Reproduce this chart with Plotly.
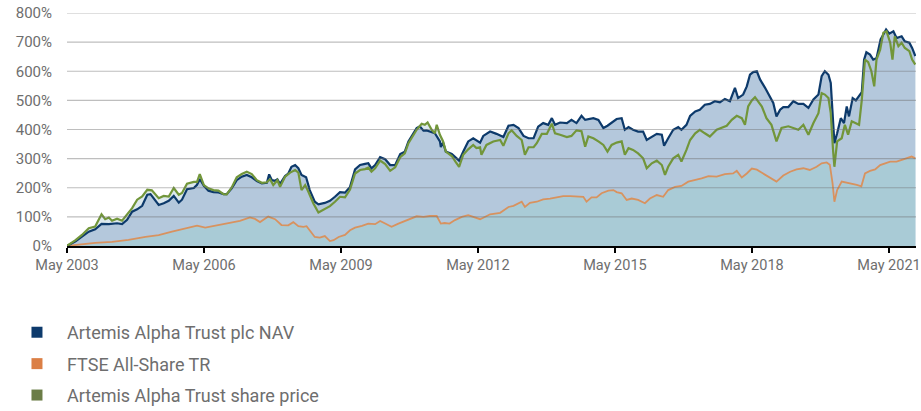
import pandas as pd
import plotly.graph_objects as go

# ---- data (decimal years, cumulative % return) ----
nav_t = [2003.33,2003.52,2003.66,2003.81,2003.95,2004.09,2004.25,2004.43,2004.54,2004.65,2004.76,2004.87,2004.98,2005.09,2005.16,2005.34,2005.45,2005.56,2005.67,2005.78,2005.85,2005.96,2006.11,2006.18,2006.24,2006.33,2006.43,2006.54,2006.65,2006.76,2006.83,2006.94,2007.05,2007.16,2007.27,2007.38,2007.49,2007.60,2007.71,2007.76,2007.82,2007.89,2007.94,2008.00,2008.11,2008.18,2008.25,2008.33,2008.40,2008.47,2008.57,2008.65,2008.76,2008.84,2008.98,2009.09,2009.20,2009.31,2009.42,2009.53,2009.64,2009.75,2009.86,2009.93,2010.00,2010.08,2010.19,2010.30,2010.41,2010.52,2010.63,2010.73,2010.81,2010.92,2010.99,2011.06,2011.14,2011.21,2011.28,2011.39,2011.50,2011.52,2011.57,2011.63,2011.76,2011.84,2011.92,2012.01,2012.12,2012.23,2012.30,2012.38,2012.45,2012.60,2012.74,2012.89,2013.00,2013.11,2013.22,2013.33,2013.44,2013.55,2013.65,2013.76,2013.87,2013.95,2014.02,2014.13,2014.28,2014.38,2014.49,2014.60,2014.68,2014.75,2014.86,2014.97,2015.08,2015.17,2015.26,2015.37,2015.48,2015.55,2015.63,2015.73,2015.84,2015.95,2016.03,2016.14,2016.25,2016.36,2016.41,2016.50,2016.61,2016.72,2016.79,2016.90,2016.98,2017.09,2017.19,2017.30,2017.41,2017.52,2017.63,2017.74,2017.85,2017.96,2018.03,2018.14,2018.22,2018.29,2018.36,2018.44,2018.51,2018.62,2018.73,2018.80,2018.87,2018.95,2019.02,2019.13,2019.24,2019.35,2019.46,2019.57,2019.68,2019.79,2019.86,2019.93,2020.01,2020.06,2020.10,2020.14,2020.20,2020.28,2020.35,2020.41,2020.46,2020.54,2020.61,2020.68,2020.74,2020.79,2020.84,2020.92,2020.99,2021.06,2021.15,2021.21,2021.27,2021.34,2021.43,2021.50,2021.61,2021.68,2021.78,2021.84,2021.91]
nav_v = [0,16,32,49,57,76,75,78,75,90,118,126,138,176,178,141,147,155,172,149,159,195,199,210,230,207,190,185,184,178,178,198,226,238,244,236,223,215,217,246,226,224,229,213,240,249,272,278,267,244,236,192,152,143,148,155,169,185,183,203,263,278,282,284,267,278,305,298,278,278,316,324,359,387,405,411,396,397,394,387,359,340,355,324,316,305,293,324,359,370,362,355,378,393,385,374,413,416,405,378,370,370,410,422,416,439,416,424,422,433,422,447,433,436,439,433,405,413,424,436,439,399,408,399,393,393,364,376,385,382,344,370,399,408,399,416,447,462,468,485,488,497,493,505,497,543,508,520,548,588,597,600,572,543,508,491,445,468,477,477,497,488,488,474,503,520,583,600,588,560,456,353,387,439,422,479,445,508,500,514,528,640,665,657,640,645,709,726,743,729,737,714,720,703,698,680,652]

ftse_t = [2003.33,2003.66,2003.95,2004.32,2004.68,2005.05,2005.34,2005.63,2005.92,2006.18,2006.36,2006.54,2006.76,2006.98,2007.12,2007.34,2007.45,2007.56,2007.74,2007.89,2008.03,2008.18,2008.29,2008.40,2008.51,2008.58,2008.69,2008.76,2008.87,2008.98,2009.09,2009.17,2009.28,2009.42,2009.53,2009.64,2009.79,2009.93,2010.08,2010.19,2010.30,2010.44,2010.59,2010.73,2010.88,2010.99,2011.14,2011.28,2011.43,2011.52,2011.60,2011.71,2011.83,2011.98,2012.12,2012.23,2012.38,2012.45,2012.60,2012.82,2013.00,2013.11,2013.29,2013.36,2013.47,2013.62,2013.76,2013.91,2014.06,2014.20,2014.35,2014.49,2014.64,2014.71,2014.82,2014.93,2015.04,2015.19,2015.30,2015.37,2015.48,2015.59,2015.70,2015.84,2015.99,2016.10,2016.25,2016.39,2016.50,2016.65,2016.79,2016.94,2017.09,2017.23,2017.38,2017.56,2017.74,2017.92,2018.00,2018.11,2018.22,2018.33,2018.44,2018.58,2018.73,2018.87,2019.02,2019.17,2019.31,2019.46,2019.60,2019.75,2019.86,2019.97,2020.04,2020.10,2020.14,2020.20,2020.30,2020.41,2020.52,2020.63,2020.73,2020.81,2020.92,2021.03,2021.14,2021.25,2021.36,2021.50,2021.61,2021.72,2021.83,2021.91]
ftse_v = [0,5,11,14,21,31,37,49,59,70,63,68,75,80,86,98,93,82,101,92,72,71,82,68,66,68,45,31,29,34,17,20,31,38,54,63,69,77,75,86,77,66,77,86,94,102,100,103,103,77,79,77,89,100,106,100,92,97,109,114,134,138,152,134,148,152,160,163,166,171,171,169,169,152,167,167,181,190,192,185,181,158,163,158,147,163,175,169,192,203,206,221,226,232,240,238,247,249,258,235,249,266,262,249,235,221,242,255,263,267,261,272,284,287,279,215,152,192,221,218,213,210,205,249,258,263,278,284,290,290,295,301,307,301]

price_t = [2003.33,2003.52,2003.66,2003.81,2003.95,2004.09,2004.17,2004.25,2004.32,2004.43,2004.54,2004.65,2004.76,2004.87,2004.98,2005.09,2005.19,2005.34,2005.45,2005.56,2005.67,2005.78,2005.85,2005.96,2006.11,2006.18,2006.24,2006.33,2006.43,2006.54,2006.65,2006.76,2006.83,2006.94,2007.05,2007.16,2007.27,2007.38,2007.49,2007.60,2007.71,2007.78,2007.85,2007.94,2008.00,2008.11,2008.22,2008.33,2008.40,2008.47,2008.55,2008.62,2008.73,2008.84,2008.95,2009.09,2009.20,2009.31,2009.42,2009.53,2009.64,2009.75,2009.86,2009.93,2010.00,2010.08,2010.19,2010.30,2010.41,2010.52,2010.63,2010.73,2010.81,2010.92,2010.99,2011.10,2011.17,2011.23,2011.32,2011.39,2011.43,2011.50,2011.57,2011.63,2011.76,2011.84,2011.92,2012.01,2012.12,2012.23,2012.30,2012.38,2012.41,2012.52,2012.67,2012.82,2012.89,2013.00,2013.07,2013.18,2013.29,2013.36,2013.44,2013.55,2013.62,2013.73,2013.84,2013.95,2014.02,2014.13,2014.28,2014.38,2014.49,2014.60,2014.68,2014.75,2014.86,2014.97,2015.08,2015.17,2015.26,2015.37,2015.48,2015.55,2015.63,2015.73,2015.84,2015.95,2016.03,2016.14,2016.25,2016.36,2016.43,2016.50,2016.61,2016.72,2016.79,2016.90,2016.98,2017.09,2017.19,2017.30,2017.41,2017.56,2017.67,2017.78,2017.89,2018.00,2018.11,2018.18,2018.25,2018.33,2018.40,2018.47,2018.55,2018.65,2018.76,2018.87,2018.98,2019.13,2019.24,2019.35,2019.46,2019.57,2019.68,2019.79,2019.86,2019.93,2020.01,2020.06,2020.11,2020.14,2020.20,2020.30,2020.37,2020.44,2020.52,2020.61,2020.68,2020.74,2020.81,2020.88,2020.95,2021.01,2021.06,2021.14,2021.21,2021.28,2021.36,2021.41,2021.46,2021.54,2021.61,2021.68,2021.78,2021.84,2021.91]
price_v = [0,20,38,61,67,109,92,98,87,94,87,107,130,159,170,193,191,164,172,170,199,176,182,214,220,220,247,209,198,192,190,178,177,201,236,247,255,247,226,217,219,229,209,226,203,238,252,261,252,192,209,186,146,115,125,137,152,169,167,194,249,261,264,269,255,267,293,281,258,270,305,318,353,382,399,420,416,424,399,387,416,382,359,324,309,290,272,313,332,347,336,339,313,347,359,364,344,387,397,378,364,313,339,339,353,385,385,420,387,382,374,378,397,394,341,376,370,359,347,324,347,355,359,313,336,330,318,301,267,284,293,278,244,272,301,313,290,330,364,387,399,387,376,399,405,413,433,447,439,416,479,500,511,497,479,439,416,359,405,411,405,399,416,382,422,456,525,520,508,456,330,272,359,370,416,382,428,422,416,502,640,631,600,548,640,674,732,737,698,640,720,686,698,680,669,640,623]

tick_years = [2003, 2006, 2009, 2012, 2015, 2018, 2021]
tick_labels = ["May 2003", "May 2006", "May 2009", "May 2012", "May 2015", "May 2018", "May 2021"]
y_ticks = [0, 100, 200, 300, 400, 500, 600, 700, 800]
y_labels = ["0%", "100%", "200%", "300%", "400%", "500%", "600%", "700%", "800%"]

names = ["Artemis Alpha Trust plc NAV", "FTSE All-Share TR", "Artemis Alpha Trust share price"]


def to_date(y):
    yr = int(y)
    return pd.Timestamp(year=yr, month=1, day=1) + pd.Timedelta(days=(y - yr) * 365.25)


nav_x = [to_date(t) for t in nav_t]
ftse_x = [to_date(t) for t in ftse_t]
price_x = [to_date(t) for t in price_t]

fig = go.Figure()

# fills (drawn first, behind lines)
fig.add_trace(go.Scatter(x=price_x, y=price_v, mode="lines", line=dict(width=0),
                         fill="tozeroy", fillcolor="#dde9ee", showlegend=False, hoverinfo="skip"))
fig.add_trace(go.Scatter(x=nav_x, y=nav_v, mode="lines", line=dict(width=0),
                         fill="tozeroy", fillcolor="#b4c8dc", showlegend=False, hoverinfo="skip"))
fig.add_trace(go.Scatter(x=ftse_x, y=ftse_v, mode="lines", line=dict(width=0),
                         fill="tozeroy", fillcolor="#a9cbd6", showlegend=False, hoverinfo="skip"))

# lines
fig.add_trace(go.Scatter(x=ftse_x, y=ftse_v, mode="lines", name=names[1],
                         line=dict(color="#d8925f", width=1.8), showlegend=False))
fig.add_trace(go.Scatter(x=nav_x, y=nav_v, mode="lines", name=names[0],
                         line=dict(color="#0d3a6b", width=2.2), showlegend=False))
fig.add_trace(go.Scatter(x=price_x, y=price_v, mode="lines", name=names[2],
                         line=dict(color="#72963a", width=2.2), showlegend=False))

# legend entries
leg_colors = ["#0d3a6c", "#db7f45", "#6b7d47"]
for i, (n, c) in enumerate(zip(names, leg_colors)):
    fig.add_trace(go.Scatter(x=[None], y=[None], mode="markers", name=n,
                             marker=dict(symbol="square", size=11, color=c),
                             legendgroup=f"g{i}", showlegend=True))

# gridlines above fills
for v in y_ticks[1:]:
    fig.add_hline(y=v, line=dict(color="rgba(110,110,110,0.45)", width=1.2), layer="above")

fig.update_layout(
    width=921, height=411,
    margin=dict(l=67, r=5, t=13, b=165, autoexpand=False),
    paper_bgcolor="white", plot_bgcolor="white",
    font=dict(family="Roboto, Arial, sans-serif", color="#6e6e6e"),
    showlegend=True,
    legend=dict(x=-0.0707, y=-0.292, xanchor="left", yanchor="top", orientation="v",
                font=dict(size=18, color="#6e6e6e"), tracegroupgap=5, itemwidth=50,
                bgcolor="rgba(0,0,0,0)"),
    xaxis=dict(type="date",
               range=[to_date(2003.333), to_date(2021.925)],
               tickvals=[to_date(y + 0.333) for y in tick_years],
               ticktext=tick_labels, ticklabeloverflow="allow",
               showgrid=False, zeroline=False,
               showline=True, linecolor="black", linewidth=2,
               ticks="outside", tickcolor="black", ticklen=5, tickwidth=2,
               tickfont=dict(size=14.5, color="#6e6e6e")),
    yaxis=dict(range=[0, 800], tickmode="array", tickvals=y_ticks, ticktext=y_labels,
               showgrid=False, zeroline=False, showline=False, ticklabeloverflow="allow",
               tickfont=dict(size=15, color="#6e6e6e"), ticklabelstandoff=14),
)

# remove the page's default body margin so the 921x411 figure fills the window exactly
fig.write_html("out.html",
               config={"displayModeBar": False},
               post_script="document.body.style.margin='0';document.body.style.overflow='hidden';")
